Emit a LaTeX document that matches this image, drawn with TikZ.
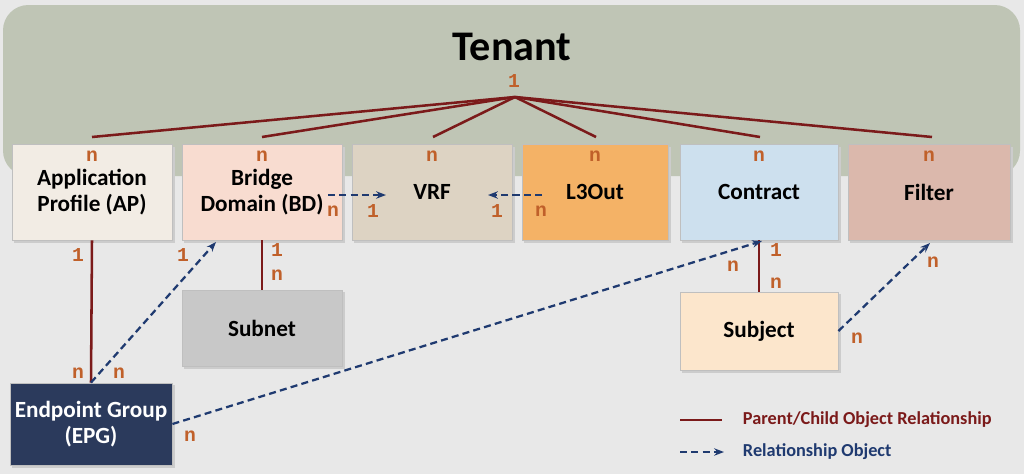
\documentclass[tikz,border=0pt]{standalone}
\usepackage{fontspec}
\setmainfont{Carlito}
\newfontfamily\codefont{Liberation Mono}
\usetikzlibrary{arrows.meta}
\definecolor{bgGray}{HTML}{E8E8E8}
\definecolor{tenantGreen}{HTML}{BFC5B5}
\definecolor{relRed}{HTML}{7B1A1A}
\definecolor{relBlue}{HTML}{1F3A70}
\definecolor{cardOrange}{HTML}{C0602A}
\tikzset{
  objbox/.style={draw=black!25, line width=0.6pt, align=center, font=\bfseries\fontsize{16.5}{19}\selectfont},
  card/.style={text=cardOrange, font=\codefont\bfseries\fontsize{14}{14}\selectfont},
  parent/.style={relRed, line width=1.8pt},
  relobj/.style={relBlue, line width=1.6pt, dash pattern=on 5pt off 3pt, -{Stealth[length=7pt]}}
}
\begin{document}
\begin{tikzpicture}[x=0.025cm, y=-0.025cm]
    \useasboundingbox (0,0) rectangle (1024,474);
    \fill[bgGray] (0,0) rectangle (1024,474);

    % Tenant
    \fill[tenantGreen, rounded corners=18pt] (3,5) rectangle (1020,176);
    \node[font=\bfseries\fontsize{30}{32}\selectfont, inner sep=1pt] (tenant) at (512,47) {Tenant};
    \node[card, inner sep=1pt] at (514,81) {1};
    \coordinate (apex) at (515,97);

    % Child objects
    \fill[black!20] (14,147) rectangle (175,243);
    \node[objbox, fill={rgb,255:red,242;green,236;blue,228}, minimum width=4cm, minimum height=2.4cm] (ap) at (92,192) {Application\\Profile (AP)};
    \fill[black!20] (184,147) rectangle (345,243);
    \node[objbox, fill={rgb,255:red,248;green,220;blue,208}, minimum width=4cm, minimum height=2.4cm] (bd) at (262,192) {Bridge\\Domain (BD)};
    \fill[black!20] (354,147) rectangle (515,243);
    \node[objbox, fill={rgb,255:red,221;green,211;blue,195}, minimum width=4cm, minimum height=2.4cm] (vrf) at (432,192) {VRF};
    \fill[black!20] (524,147) rectangle (671,243);
    \node[objbox, fill={rgb,255:red,244;green,178;blue,102}, minimum width=3.65cm, minimum height=2.4cm] (l3out) at (595,192) {L3Out};
    \fill[black!20] (682,147) rectangle (841,243);
    \node[objbox, fill={rgb,255:red,205;green,224;blue,238}, minimum width=3.95cm, minimum height=2.4cm] (contract) at (759,192) {Contract};
    \fill[black!20] (850,147) rectangle (1013,243);
    \node[objbox, fill={rgb,255:red,219;green,184;blue,172}, minimum width=4.05cm, minimum height=2.4cm] (filter) at (929,192) {Filter};

    % Grandchildren
    \fill[black!20] (184,292) rectangle (345,369);
    \node[objbox, fill={rgb,255:red,200;green,200;blue,200}, minimum width=4cm, minimum height=1.9cm] (subnet) at (262,328) {Subnet};
    \fill[black!20] (682,294) rectangle (841,373);
    \node[objbox, fill={rgb,255:red,252;green,230;blue,204}, minimum width=3.95cm, minimum height=1.95cm] (subject) at (759,331) {Subject};
    \fill[black!20] (12,385) rectangle (175,468);
    \node[objbox, fill={rgb,255:red,43;green,58;blue,92}, text=white, minimum width=4.05cm, minimum height=2.05cm] (epg) at (91,424) {Endpoint Group\\(EPG)};

    % Tenant to children
    \foreach \x in {92,262,433,596,760,932}
        \draw[parent] (apex) -- (\x,137);
    \foreach \x in {92,262,432,595,759,929}
        \node[card] at (\x,156) {n};

    % Parent/child links
    \draw[parent] (ap.south) -- (epg.north);
    \node[card] at (78,255) {1};
    \node[card] at (78,373) {n};
    \draw[parent] (bd.south) -- (subnet.north);
    \node[card] at (277,250) {1};
    \node[card] at (277,275) {n};
    \draw[parent] (contract.south) -- (subject.north);
    \node[card] at (776,250) {1};
    \node[card] at (776,283) {n};

    % Relationship objects
    \draw[relobj] (epg.north) -- (216,242);
    \node[card] at (119,373) {n};
    \node[card] at (183,255) {1};
    \draw[relobj] (328,195) -- (386,195);
    \node[card] at (333,211) {n};
    \node[card] at (373,211) {1};
    \draw[relobj] (542,195) -- (488,195);
    \node[card] at (497,211) {1};
    \node[card] at (541,211) {n};
    \draw[relobj] (epg.east) -- (762,241);
    \node[card] at (190,436) {n};
    \node[card] at (733,266) {n};
    \draw[relobj] (subject.east) -- (930,243);
    \node[card] at (857,338) {n};
    \node[card] at (933,262) {n};

    % Legend
    \coordinate (lgA) at (680,420);
    \coordinate (lgB) at (722,420);
    \coordinate (lgC) at (680,452);
    \coordinate (lgD) at (724,452);
    \draw[parent] (lgA) -- (lgB);
    \node[anchor=west, text=relRed, font=\bfseries\fontsize{13}{15}\selectfont] at (738,420) {Parent/Child Object Relationship};
    \draw[relobj] (lgC) -- (lgD);
    \node[anchor=west, text=relBlue, font=\bfseries\fontsize{13}{15}\selectfont] at (738,452) {Relationship Object};
\end{tikzpicture}
\end{document}
